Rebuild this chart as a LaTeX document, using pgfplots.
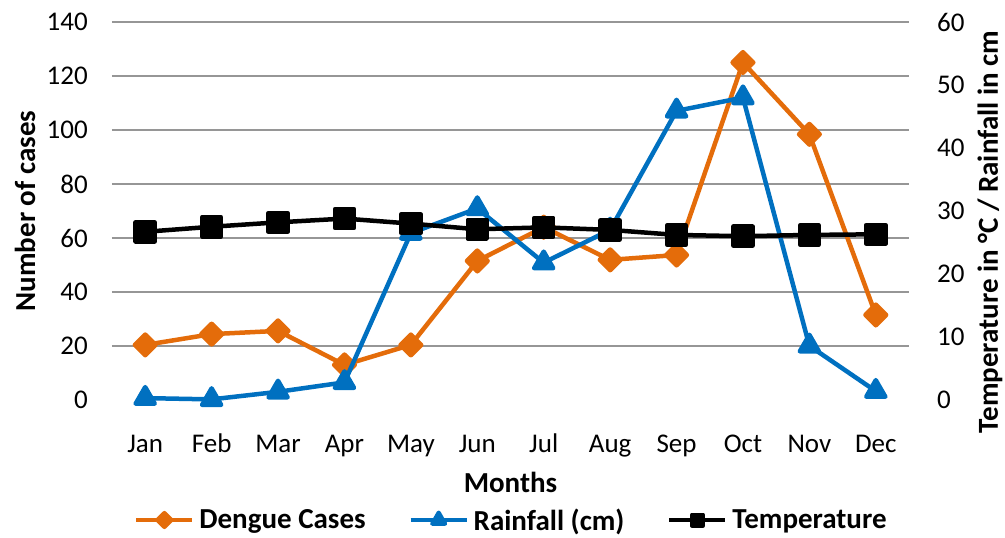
\documentclass[border=0pt]{standalone}
\usepackage{fontspec}
\setmainfont{Carlito}
\usepackage{pgfplots}
\pgfplotsset{compat=1.18}
\definecolor{dorange}{RGB}{228,108,10}
\definecolor{rblue}{RGB}{0,112,192}
\definecolor{gridgray}{RGB}{150,150,150}
\newcommand{\tickfont}{\fontsize{27bp}{32bp}\selectfont}
\newcommand{\labfont}{\fontsize{29bp}{34bp}\selectfont\bfseries}
\begin{document}
\begin{tikzpicture}
\useasboundingbox (-112bp,-138bp) rectangle (893bp,400bp);
\pgfplotsset{
  common/.style={
    width=797bp, height=378bp, scale only axis, clip=false,
    xmin=-0.5, xmax=11.5,
    axis line style={draw=none},
    major tick style={draw=none}, minor tick style={draw=none},
    /pgf/number format/assume math mode=true,
    ticklabel style={font=\tickfont},
    legend image code/.code={\draw[mark repeat=2,mark phase=2,##1] plot coordinates {(0bp,0bp) (28bp,0bp) (56bp,0bp)};},
  },
  dengue/.style={color=dorange, line width=4.5bp, line join=round, mark=square*, mark size=7.3bp, mark options={rotate=45, draw=none, fill=dorange},
    legend image post style={mark size=5bp, line width=4bp}},
  rain/.style={color=rblue, line width=4.5bp, line join=round, mark=triangle*, mark size=11bp, mark options={draw=none, fill=rblue},
    legend image post style={mark size=7.5bp, line width=4bp}},
  temp/.style={color=black, line width=4.5bp, line join=round, mark=square*, mark size=9.5bp, mark options={draw=none, fill=black},
    legend image post style={mark size=5.5bp, line width=4bp}},
}
\begin{axis}[common,
  ymin=0, ymax=140, ytick={0,20,...,140},
  xtick={0,...,11}, xticklabels={Jan,Feb,Mar,Apr,May,Jun,Jul,Aug,Sep,Oct,Nov,Dec},
  xticklabel style={anchor=base, yshift=-52bp, inner sep=0pt},
  yticklabel style={anchor=east, inner sep=0pt, xshift=-24bp},
  extra y ticks={20,40,...,140}, extra y tick labels={},
  extra y tick style={grid=major, major grid style={gridgray, line width=1.5bp}},
  xlabel={Months}, xlabel style={font=\labfont, at={(axis description cs:0.5,0)}, anchor=center, yshift=-82bp},
  ylabel={Number of cases}, ylabel style={font=\labfont, at={(axis description cs:-0.1092,0.5)}, anchor=center},
]
\addplot[dengue] coordinates {(0,20.4) (1,24.4) (2,25.6) (3,13.0) (4,20.4) (5,51.5) (6,64) (7,51.9) (8,53.7) (9,125) (10,98.4) (11,31.5)};
\end{axis}
\begin{axis}[common,
  ymin=0, ymax=60, ytick={0,10,...,60},
  axis y line*=right, hide x axis,
  yticklabel style={anchor=west, inner sep=0pt, xshift=28bp},
  ylabel={Temperature in °C / Rainfall in cm},
  ylabel style={font=\labfont, at={(axis description cs:1.1016,0.4444)}, anchor=center},
  legend columns=3,
  legend style={at={(axis description cs:0.5,0)}, anchor=center, yshift=-120bp, draw=none, fill=none, font=\labfont, inner sep=0pt, nodes={inner sep=0pt},
    /tikz/every odd column/.append style={column sep=5bp},
    /tikz/every even column/.append style={column sep=43bp}},
]
\addlegendimage{dengue}
\addlegendentry{Dengue Cases}
\addplot[rain] coordinates {(0,0.3) (1,0.1) (2,1.3) (3,2.8) (4,26.5) (5,30.4) (6,21.8) (7,27.0) (8,45.9) (9,48.0) (10,8.6) (11,1.4)};
\addlegendentry{Rainfall (cm)}
\addplot[temp] coordinates {(0,26.7) (1,27.5) (2,28.2) (3,28.8) (4,28.0) (5,27.1) (6,27.4) (7,27.0) (8,26.2) (9,26.0) (10,26.2) (11,26.3)};
\addlegendentry{Temperature}
\end{axis}
\end{tikzpicture}
\end{document}
